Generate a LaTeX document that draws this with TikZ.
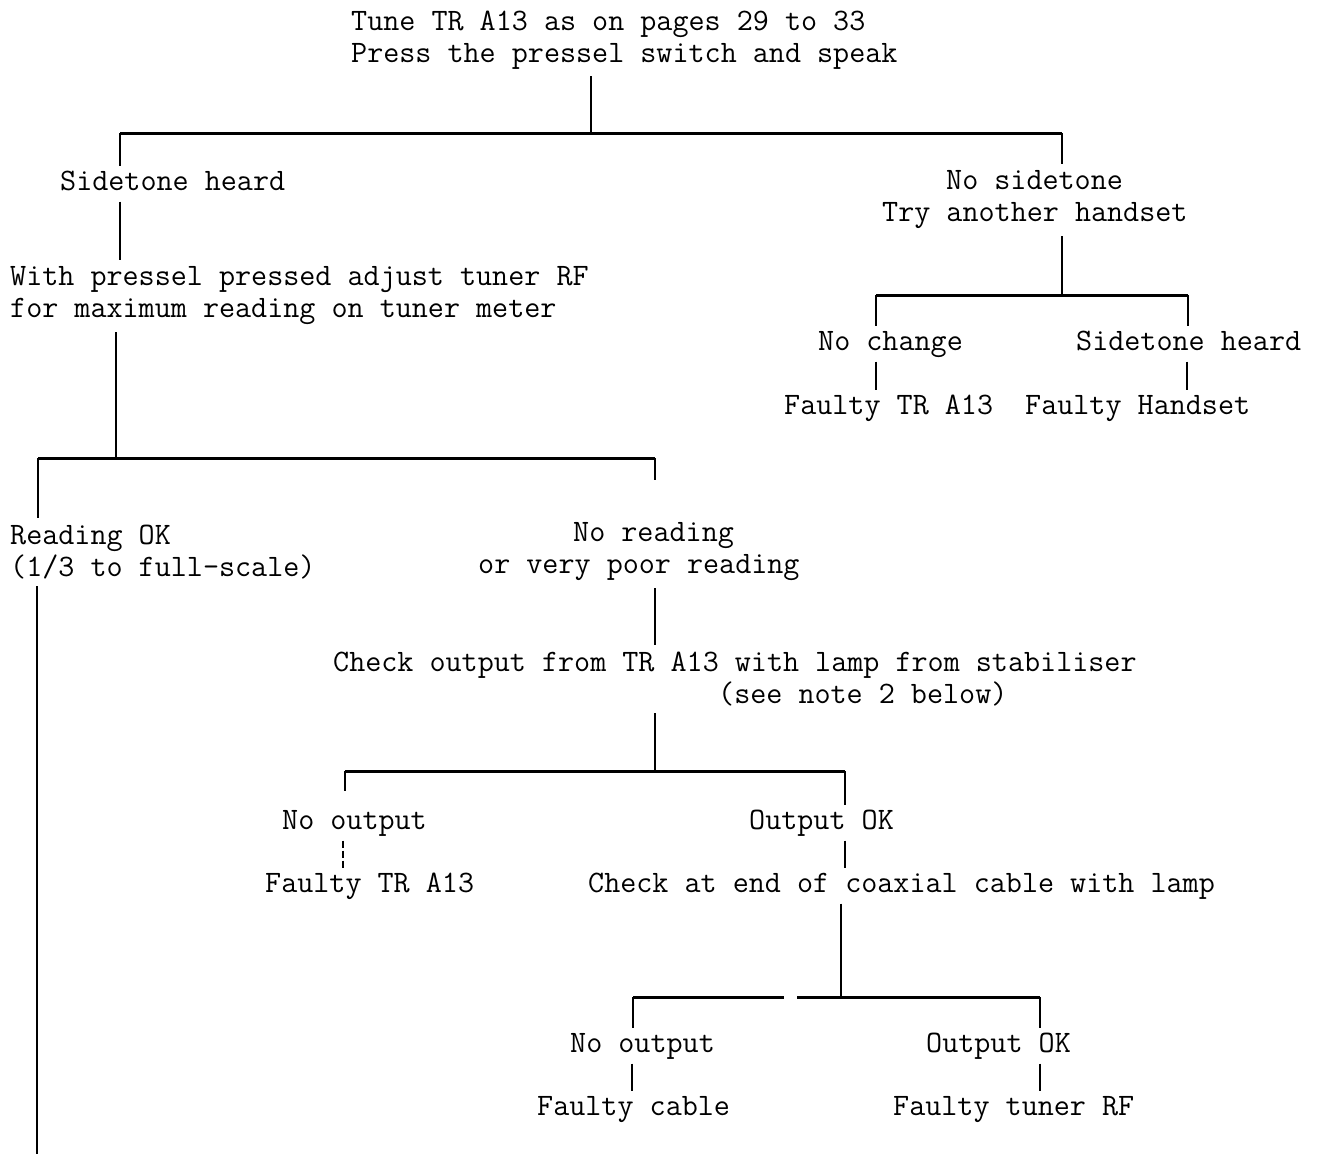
\documentclass[tikz,border=0pt]{standalone}
\usepackage{fontspec}
\begin{document}
\begin{tikzpicture}[x=1pt,y=-1pt,
  txt/.style={inner xsep=0pt, inner ysep=7pt, anchor=west, align=left,
              font=\ttfamily\fontsize{31.2}{32}\selectfont},
  one/.style={txt, inner ysep=4pt, text height=20pt, text depth=7pt},
  bar/.style={line width=3pt},
  stem/.style={line width=1.4pt}]
\useasboundingbox (0,0) rectangle (1317,1154);

% text nodes
\node[txt] (top) at (351,40) {Tune TR A13 as on pages 29 to 33\\Press the pressel switch and speak};
\node[one] (side) at (60,184) {Sidetone heard};
\node[txt] (nos) at (882,200) {\hspace*{64pt}No sidetone\\Try another handset};
\node[txt] (adj) at (10,296) {With pressel pressed adjust tuner RF\\for maximum reading on tuner meter};
\node[one] (noch) at (818,344) {No change};
\node[one] (sth) at (1076,344) {Sidetone heard};
\node[one] (ftra) at (784,408) {Faulty TR A13};
\node[one] (fh) at (1025,408) {Faulty Handset};
\node[txt] (rok) at (10,552) {Reading OK\\(1/3 to full-scale)};
\node[txt] (nor) at (478,552) {\hspace*{95pt}No reading\\or very poor reading};
\node[txt] (chk) at (333,679) {Check output from TR A13 with lamp from stabiliser\\\hspace*{385pt}(see note 2 below)};
\node[one] (nooa) at (282,823) {No output};
\node[one] (oka) at (749,823) {Output OK};
\node[one] (ftrb) at (265,886) {Faulty TR A13};
\node[one] (chkb) at (588,886) {Check at end of coaxial cable with lamp};
\node[one] (noob) at (570,1046) {No output};
\node[one] (okb) at (926,1046) {Output OK};
\node[one] (fc) at (537,1109) {Faulty cable};
\node[one] (ftrf) at (893,1109) {Faulty tuner RF};

% junction coordinates
\coordinate (j1) at (591,133);
\coordinate (j1l) at (120,133);
\coordinate (j1r) at (1062,133);
\coordinate (s1) at (120,0);
\coordinate (j2) at (116,458);
\coordinate (j2l) at (38,458);
\coordinate (j2r) at (655,458);
\coordinate (rx) at (37,0);
\coordinate (bot) at (37,1154);
\coordinate (j3) at (655,771);
\coordinate (j3l) at (345,771);
\coordinate (j3r) at (845,771);
\coordinate (da) at (343,0);
\coordinate (j4) at (841,997);
\coordinate (j4l) at (633,997);
\coordinate (j4r) at (1040,997);
\coordinate (g1) at (784,997);
\coordinate (g2) at (797,997);
\coordinate (xa) at (632,0);
\coordinate (j5) at (1062,295);
\coordinate (j5l) at (876,295);
\coordinate (j5r) at (1188,295);
\coordinate (xb) at (1187,0);

% top tree
\draw[stem] (j1 |- top.south) -- (j1);
\draw[bar] (j1l) -- (j1r);
\draw[stem] (j1l) -- (j1l |- side.north);
\draw[stem] (j1r) -- (j1r |- nos.north);
\draw[stem] (s1 |- side.south) -- (s1 |- adj.north);
\draw[stem] (j2 |- adj.south) -- (j2);

% right branch
\draw[stem] (j5 |- nos.south) -- (j5);
\draw[bar] (j5l) -- (j5r);
\draw[stem] (j5l) -- (j5l |- noch.north);
\draw[stem] (j5r) -- (j5r |- sth.north);
\draw[stem] (j5l |- noch.south) -- (j5l |- ftra.north);
\draw[stem] (xb |- sth.south) -- (xb |- ftra.north);

% reading tree
\draw[bar] (j2l) -- (j2r);
\draw[stem] (j2l) -- (j2l |- rok.north);
\draw[stem] (j2r) -- ([yshift=-22pt]j2r);
\draw[stem] (rx |- rok.south) -- (bot);
\draw[stem] (j2r |- nor.south) -- (j2r |- chk.north);
\draw[stem] (j3 |- chk.south) -- (j3);

% output tree
\draw[bar] (j3l) -- (j3r);
\draw[stem] (j3l) -- ([yshift=-20pt]j3l);
\draw[stem] (j3r) -- (j3r |- oka.north);
\draw[stem, dash pattern=on 7pt off 3pt] (da |- nooa.south) -- (da |- ftrb.north);
\draw[stem] (j3r |- oka.south) -- (j3r |- chkb.north);

% coax tree
\draw[stem] (j4 |- chkb.south) -- (j4);
\draw[bar] (j4l) -- (g1);
\draw[bar] (g2) -- (j4r);
\draw[stem] (j4l) -- (j4l |- noob.north);
\draw[stem] (j4r) -- (j4r |- okb.north);
\draw[stem] (xa |- noob.south) -- (xa |- fc.north);
\draw[stem] (j4r |- okb.south) -- (j4r |- ftrf.north);
\end{tikzpicture}
\end{document}
